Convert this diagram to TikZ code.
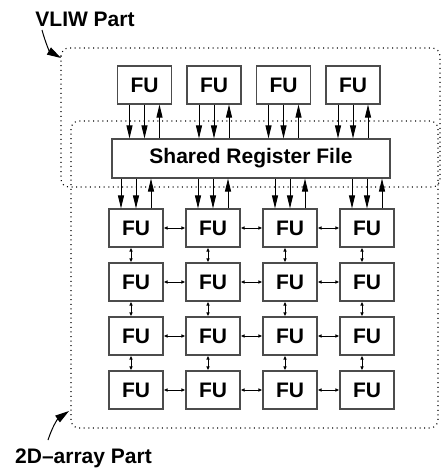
\documentclass[tikz,border=0pt]{standalone}
\usepackage{fontspec}
\setmainfont{Liberation Sans}
\usetikzlibrary{arrows.meta}
\tikzset{
  fubox/.style={draw=black!70, line width=1.1pt, fill=white, minimum width=54pt, minimum height=38pt, inner sep=0pt, font=\fontsize{21}{24}\selectfont\bfseries},
  bigarrow/.style={line width=0.9pt, -{Triangle[length=13pt,width=6pt]}},
  smallarrow/.style={line width=0.9pt, {Latex[length=4pt,width=3.6pt]}-{Latex[length=4pt,width=3.6pt]}},
  region/.style={draw=black, line width=1.1pt, dash pattern=on 1pt off 3.6pt, rounded corners=8pt},
  lbl/.style={font=\fontsize{21}{24}\selectfont\bfseries, anchor=base, inner sep=0pt},
  lblarrow/.style={line width=1pt, -{Triangle[length=14pt,width=8pt]}}
}
\begin{document}
\begin{tikzpicture}[x=1pt,y=1pt]
\useasboundingbox (0,0) rectangle (442,-468);
% regions
\draw[region] (61,-48) rectangle (440,-187);
\draw[region] (71,-121) rectangle (438,-428);
% labels
\node[lbl] (vliw) at (85,-26.7) {VLIW Part};
\node[lbl] (arr) at (83.5,-463) {2D–array Part};
\coordinate (vs) at (42,-30);
\coordinate (vt) at (61,-58);
\coordinate (as) at (48,-440);
\coordinate (at) at (69,-411);
\draw[lblarrow] (vs) to[out=-75,in=150] (vt);
\draw[lblarrow] (as) to[out=72,in=215] (at);
% top FUs
\foreach \i in {1,...,4} {
  \node[fubox] (t\i) at ({144.5+69.5*(\i-1)},-85) {FU};
}
% shared register file
\node[fubox, minimum width=278pt, minimum height=39pt] (srf) at (251,-158.5) {Shared Register File};
% grid
\foreach \i in {1,...,4} {
  \foreach \j in {1,...,4} {
    \node[fubox] (g\i\j) at ({136+77*(\i-1)},{-228-54*(\j-1)}) {FU};
  }
}
% top FU <-> SRF
\foreach \i in {1,...,4} {
  \draw[bigarrow] ([xshift=-15pt]t\i.south) -- ([xshift=-15pt]t\i.south |- srf.north);
  \draw[bigarrow] (t\i.south) -- (t\i.south |- srf.north);
  \draw[bigarrow] ([xshift=15pt]t\i.south |- srf.north) -- ([xshift=15pt]t\i.south);
}
% SRF <-> grid row 1
\foreach \i in {1,...,4} {
  \draw[bigarrow] ([xshift=-15pt]g\i1.north |- srf.south) -- ([xshift=-15pt]g\i1.north);
  \draw[bigarrow] (g\i1.north |- srf.south) -- (g\i1.north);
  \draw[bigarrow] ([xshift=15pt]g\i1.north) -- ([xshift=15pt]g\i1.north |- srf.south);
}
% horizontal grid links
\foreach \j in {1,...,4} {
  \draw[smallarrow] (g1\j.east) -- (g2\j.west);
  \draw[smallarrow] (g2\j.east) -- (g3\j.west);
  \draw[smallarrow] (g3\j.east) -- (g4\j.west);
}
% vertical grid links
\foreach \i in {1,...,4} {
  \draw[smallarrow] ([xshift=-5pt]g\i1.south) -- ([xshift=-5pt]g\i2.north);
  \draw[smallarrow] ([xshift=-5pt]g\i2.south) -- ([xshift=-5pt]g\i3.north);
  \draw[smallarrow] ([xshift=-5pt]g\i3.south) -- ([xshift=-5pt]g\i4.north);
}
\end{tikzpicture}
\end{document}
